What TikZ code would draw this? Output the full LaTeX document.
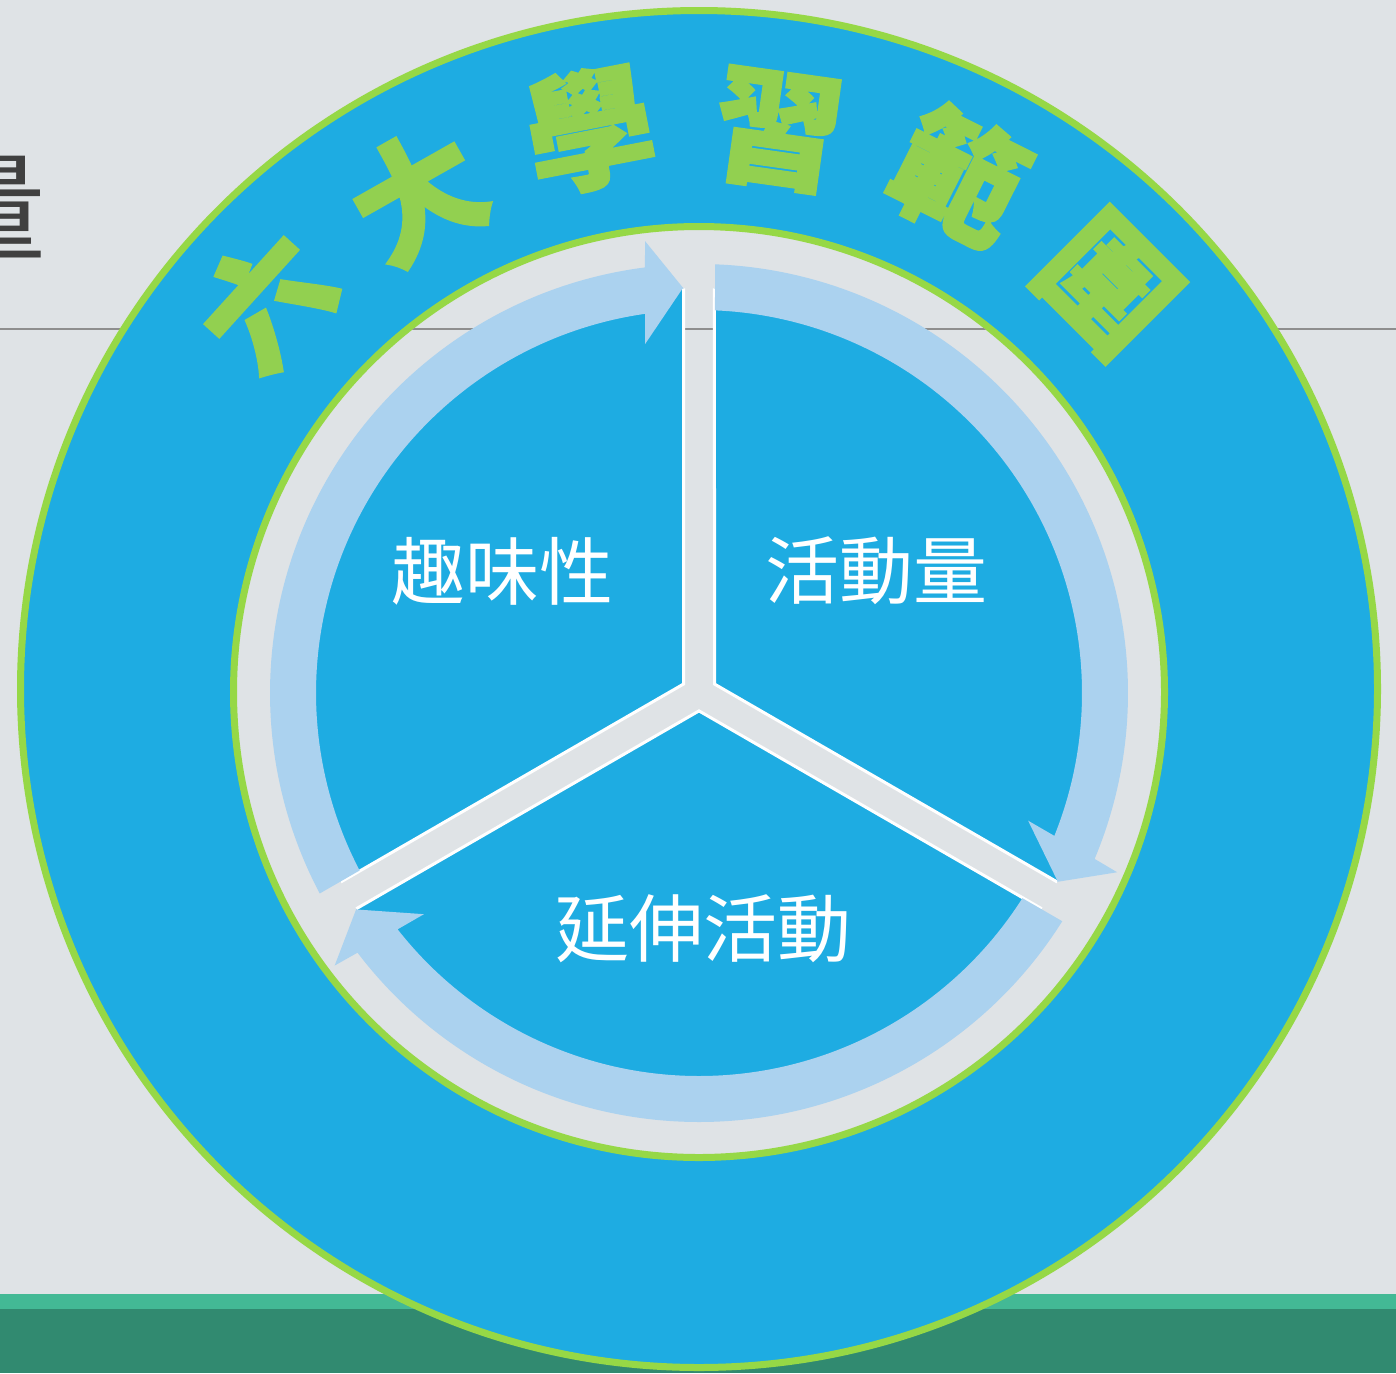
\documentclass[tikz,border=0pt]{standalone}
\usepackage{fontspec}
\newfontfamily\cjk{Noto Sans CJK TC}
\newfontfamily\cjkheavy{Noto Sans CJK TC}[BoldFeatures={FakeBold=2}]
\definecolor{bg}{HTML}{DFE3E6}
\definecolor{cblue}{HTML}{1EACE2}
\definecolor{rimgreen}{HTML}{96D846}
\definecolor{titlegreen}{HTML}{92D050}
\definecolor{bandblue}{HTML}{ABD2EF}
\definecolor{lgreen}{HTML}{43B995}
\definecolor{dgreen}{HTML}{318A70}
\definecolor{rulegray}{HTML}{8E8E8E}
\definecolor{txtgray}{HTML}{404040}
\begin{document}
\begin{tikzpicture}[x=1pt,y=1pt,
  titlechar/.style={text=titlegreen, font=\fontsize{128}{128}\cjkheavy\bfseries, inner sep=0pt},
  seglabel/.style={text=white, font=\fontsize{74}{74}\cjk, inner sep=0pt},
  rim/.style={draw=rimgreen, line width=7pt},
  ruleline/.style={draw=rulegray, line width=1.5pt},
  sector/.style={fill=cblue},
  sectoredge/.style={draw=white, line width=3pt},
  arrowband/.style={fill=bandblue}]
\useasboundingbox (0,0) rectangle (1396,-1373);
\clip (0,0) rectangle (1396,-1373);
\fill[bg] (0,0) rectangle (1396,-1373);
\draw[ruleline] (0,-329) -- (1396,-329);
\fill[lgreen] (0,-1294) rectangle (1396,-1373);
\fill[dgreen] (0,-1309) rectangle (1396,-1373);
\node[anchor=east, text=txtgray, font=\fontsize{118}{118}\cjk, inner sep=0pt] (pagetitle) at (47,-207) {量};
% outer disk
\filldraw[fill=cblue, rim] (699,-689) circle (678.5);
% title along the arc
\begin{scope}[shift={(699,-693)}]
\node[titlechar, rotate=47.8] (t1) at (137.8:585) {六};
\node[titlechar, rotate=29.5] (t2) at (119.5:572) {大};
\node[titlechar, rotate=11] (t3) at (101:574) {學};
\node[titlechar, rotate=-8] (t4) at (82:568) {習};
\node[titlechar, rotate=-26.7] (t5) at (63.3:579) {範};
\node[titlechar, rotate=-45] (t6) at (45:578) {圍};
\end{scope}
% inner opening
\filldraw[fill=bg, rim] (699,-692) circle (465.5);
\begin{scope}
\clip (699,-692) circle (462);
\draw[ruleline] (0,-329) -- (1396,-329);
\end{scope}
% sectors and arrows
\begin{scope}[shift={(699,-693)}]
\foreach \r in {0,-120,-240} {
  \begin{scope}[rotate=\r]
    \fill[sector] (150:17.9) -- (92.19:405) arc[start angle=92.19, end angle=207.81, radius=405] -- cycle;
    \draw[sectoredge] (92.19:405) -- (150:17.9) -- (207.81:405);
  \end{scope}
}
\foreach \r in {0,-120,-240} {
  \begin{scope}[rotate=\r]
    \fill[arrowband] (207.86:429) arc[start angle=207.86, end angle=97.25, radius=429]
      -- (96.8:455) -- (92.26:405.5) -- (98.8:353) -- (98.1:383)
      arc[start angle=98.1, end angle=207.61, radius=383] -- cycle;
  \end{scope}
}
\end{scope}
\node[seglabel] (l1) at (502,-571) {趣味性};
\node[seglabel] (l2) at (876,-571) {活動量};
\node[seglabel] (l3) at (703,-929) {延伸活動};
\end{tikzpicture}
\end{document}
